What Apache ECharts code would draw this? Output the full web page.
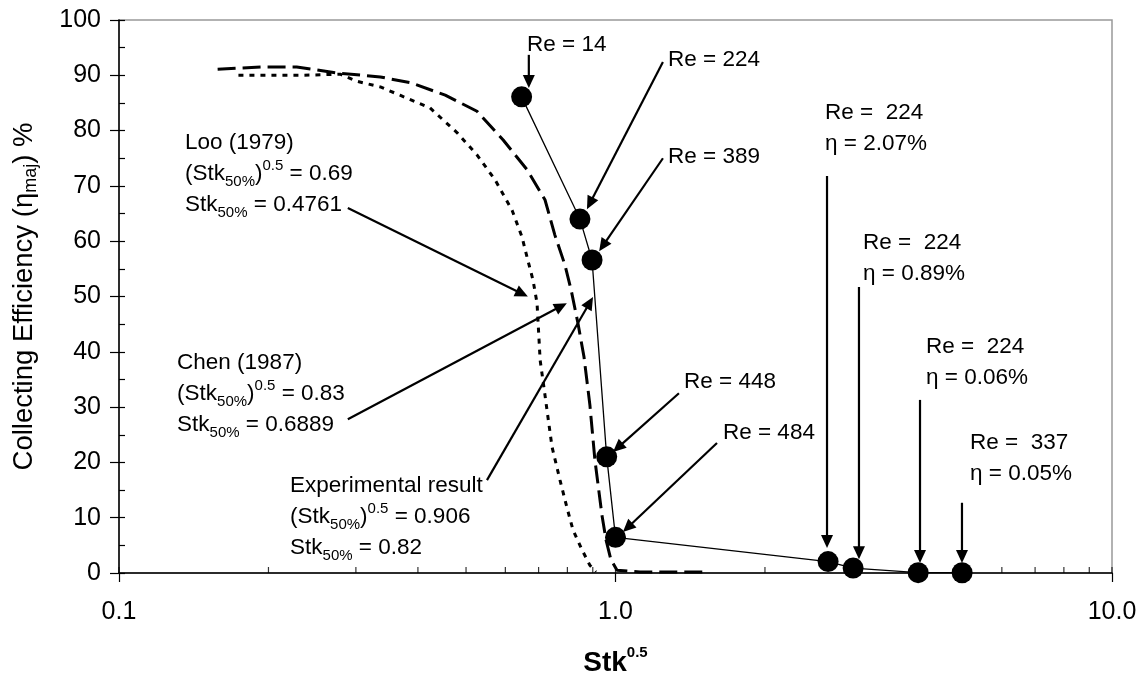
<!DOCTYPE html>
<html>
<head>
<meta charset="utf-8">
<script src="https://cdn.jsdelivr.net/npm/echarts@6/dist/echarts.min.js"></script>
<style>
  html, body { margin: 0; padding: 0; background: #fff; }
  #chart { width: 1145px; height: 677px; }
</style>
</head>
<body>
<div id="chart"></div>
<script>
// experimental result: Stk^0.5 vs collecting efficiency (%)
var expX = [0.647, 0.848, 0.897, 0.960, 1.0, 2.68, 3.01, 4.07, 4.99]
var expY = [86.1, 64.0, 56.6, 21.0, 6.45, 2.07, 0.89, 0.06, 0.05]

// Chen (1987) - long dash
var chenX = [0.158, 0.194, 0.228, 0.276, 0.336, 0.389, 0.454, 0.526, 0.594, 0.664, 0.721, 0.755, 0.791, 0.814, 0.840, 0.864, 0.888, 0.909, 0.939, 0.957, 0.979, 1.007, 1.12, 1.50]
var chenY = [91.1, 91.5, 91.5, 90.4, 89.7, 88.6, 86.4, 83.5, 78.3, 72.9, 67.5, 61.1, 55.7, 51.2, 45.2, 39.1, 30.4, 20.4, 10.5, 6.0, 2.4, 0.5, 0.2, 0.2]

// Loo (1979) - short dash
var looX = [0.174, 0.232, 0.279, 0.302, 0.336, 0.368, 0.423, 0.480, 0.526, 0.572, 0.619, 0.648, 0.664, 0.682, 0.695, 0.702, 0.705, 0.721, 0.731, 0.745, 0.773, 0.798, 0.821, 0.856, 0.888, 0.913]
var looY = [90.0, 90.0, 90.2, 88.9, 87.9, 86.4, 84.1, 79.6, 75.6, 71.1, 65.6, 60.8, 57.0, 53.0, 48.8, 41.6, 38.5, 32.2, 28.2, 22.8, 16.8, 11.9, 7.8, 4.2, 1.4, 0.2]

// inner tick marks on the log axis
var xInnerTicks = [0.1, 0.2, 0.3, 0.4, 0.5, 0.6, 0.7, 0.8, 0.9, 1, 2, 3, 4, 5, 6, 7, 8, 9, 10]

var stk = '(Stk{sub|50%}){sup|0.5}'
var notes = [
  { text: 'Loo (1979)\n' + stk + ' = 0.69\nStk{sub|50%} = 0.4761', at: [0.1358, 77.8] },
  { text: 'Chen (1987)\n' + stk + ' = 0.83\nStk{sub|50%} = 0.6889', at: [0.1309, 38.0] },
  { text: 'Experimental result\n' + stk + ' = 0.906\nStk{sub|50%} = 0.82', at: [0.2211, 15.7] },
  { text: 'Re = 14', at: [0.6635, 95.5] },
  { text: 'Re = 224', at: [1.276, 92.8] },
  { text: 'Re = 389', at: [1.276, 75.2] },
  { text: 'Re = 448', at: [1.374, 34.5] },
  { text: 'Re = 484', at: [1.646, 25.3] },
  { text: 'Re =  224\nη = 2.07%', at: [2.642, 83.2] },
  { text: 'Re =  224\nη = 0.89%', at: [3.151, 59.7] },
  { text: 'Re =  224\nη = 0.06%', at: [4.221, 40.9] },
  { text: 'Re =  337\nη = 0.05%', at: [5.176, 23.5] }
]
var arrows = [
  { from: [0.289, 66.0], to: [0.666, 50.0] },
  { from: [0.289, 27.8], to: [0.798, 48.8] },
  { from: [0.551, 16.8], to: [0.901, 49.9] },
  { from: [0.669, 93.7], to: [0.669, 87.7] },
  { from: [1.246, 92.4], to: [0.876, 65.8] },
  { from: [1.246, 75.0], to: [0.927, 58.2] },
  { from: [1.342, 32.5], to: [0.9885, 21.9] },
  { from: [1.601, 23.5], to: [1.035, 7.4] },
  { from: [2.667, 71.8], to: [2.667, 4.5] },
  { from: [3.093, 51.7], to: [3.093, 2.5] },
  { from: [4.105, 31.3], to: [4.105, 1.8] },
  { from: [4.987, 12.7], to: [4.987, 1.8] }
]

var font = 'Liberation Sans, Arial, sans-serif'

function pairs(xs, ys) {
  return xs.map(function (x, i) { return [x, ys[i]] })
}

var chart = echarts.init(document.getElementById('chart'))
chart.setOption({
  animation: false,
  textStyle: { fontFamily: font },
  grid: {
    left: 119, right: 33, top: 20, bottom: 104,
    show: true, borderColor: '#999', borderWidth: 1.5,
    containLabel: false, outerBoundsMode: 'none'
  },
  xAxis: {
    type: 'log',
    logBase: 10,
    min: 0.1,
    max: 10,
    name: '{b|Stk}{sup|0.5}',
    nameLocation: 'middle',
    nameGap: 72,
    nameTextStyle: {
      rich: {
        b: { fontSize: 28, fontWeight: 'bold', color: '#000', fontFamily: font, lineHeight: 32, verticalAlign: 'bottom' },
        sup: { fontSize: 15, fontWeight: 'bold', color: '#000', fontFamily: font, lineHeight: 16, verticalAlign: 'top' }
      }
    },
    axisLine: { lineStyle: { color: '#000', width: 1.5 } },
    axisTick: { show: true, length: 9, lineStyle: { color: '#000', width: 1.2 } },
    minorTick: { show: false },
    splitLine: { show: false },
    axisLabel: {
      fontSize: 25, color: '#000', margin: 27,
      formatter: function (v) { return v.toFixed(1) }
    }
  },
  yAxis: [{
    type: 'value',
    min: 0,
    max: 100,
    interval: 10,
    name: 'Collecting Efficiency (η{sub|maj}) %',
    nameLocation: 'middle',
    nameGap: 79,
    nameTextStyle: {
      fontSize: 27.5, color: '#000', lineHeight: 32,
      rich: { sub: { fontSize: 18, color: '#000', fontFamily: font, lineHeight: 19, verticalAlign: 'bottom' } }
    },
    axisLine: { show: true, lineStyle: { color: '#000', width: 1.5 } },
    axisTick: { show: true, length: 9, lineStyle: { color: '#000', width: 1.2 } },
    splitLine: { show: false },
    axisLabel: { fontSize: 25, color: '#000', margin: 18 }
  }, {
    type: 'value',
    min: 0,
    max: 100,
    interval: 5,
    position: 'left',
    axisLine: { show: false },
    axisTick: { show: true, inside: true, length: 6, lineStyle: { color: '#000', width: 1.2 } },
    axisLabel: { show: false },
    splitLine: { show: false }
  }],
  series: [{
    name: 'x inner ticks',
    type: 'scatter',
    silent: true,
    symbol: 'rect',
    symbolSize: [1.2, 6],
    symbolOffset: [0, -3],
    itemStyle: { color: '#000' },
    data: xInnerTicks.map(function (v) { return [v, 0] })
  }, {
    name: 'Loo (1979)',
    type: 'line',
    showSymbol: false,
    lineStyle: { color: '#000', width: 3, type: [5, 6] },
    data: pairs(looX, looY)
  }, {
    name: 'Chen (1987)',
    type: 'line',
    showSymbol: false,
    lineStyle: { color: '#000', width: 3, type: [18, 7] },
    data: pairs(chenX, chenY)
  }, {
    name: 'Experimental result',
    type: 'line',
    symbol: 'circle',
    symbolSize: 21,
    itemStyle: { color: '#000' },
    lineStyle: { color: '#000', width: 1.3 },
    data: pairs(expX, expY),
    z: 5
  }]
})

// annotations anchored in data space
var rich = {
  sub: { fontSize: 15, lineHeight: 16, verticalAlign: 'bottom', fontFamily: font, fill: '#000' },
  sup: { fontSize: 15, lineHeight: 16, verticalAlign: 'top', fontFamily: font, fill: '#000' }
}
var graphics = []
notes.forEach(function (n) {
  var p = chart.convertToPixel({ xAxisIndex: 0, yAxisIndex: 0 }, n.at)
  graphics.push({
    type: 'text', x: p[0], y: p[1] - 15.5, z: 10,
    style: {
      text: n.text, fill: '#000', fontSize: 22.5, fontFamily: font,
      lineHeight: 31, align: 'left', verticalAlign: 'top', rich: rich
    }
  })
})
arrows.forEach(function (a) {
  var s = chart.convertToPixel({ xAxisIndex: 0, yAxisIndex: 0 }, a.from)
  var t = chart.convertToPixel({ xAxisIndex: 0, yAxisIndex: 0 }, a.to)
  var dx = t[0] - s[0], dy = t[1] - s[1]
  var len = Math.sqrt(dx * dx + dy * dy)
  var ux = dx / len, uy = dy / len
  var head = 13, half = 6
  var bx = t[0] - ux * head, by = t[1] - uy * head
  graphics.push({
    type: 'line', z: 10,
    shape: { x1: s[0], y1: s[1], x2: bx + ux * 2, y2: by + uy * 2 },
    style: { stroke: '#000', lineWidth: 2.2 }
  })
  graphics.push({
    type: 'polygon', z: 10,
    shape: { points: [[t[0], t[1]], [bx - uy * half, by + ux * half], [bx + uy * half, by - ux * half]] },
    style: { fill: '#000' }
  })
})
chart.setOption({ graphic: graphics })
</script>
</body>
</html>
